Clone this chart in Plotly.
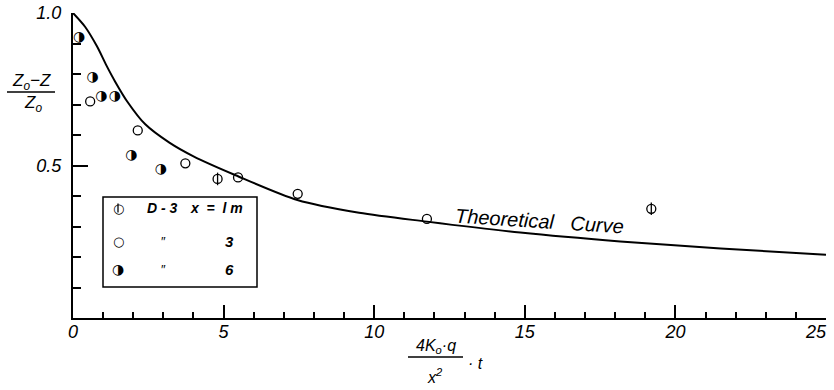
import plotly.graph_objects as go

# ---------------- data ----------------
curve_x = [0, 0.4, 0.8, 1.1, 1.4, 1.8, 2.4, 3.2, 4.0, 5.4, 7.45, 9.5, 11.75, 14.85, 18.17, 21.5, 25]
curve_y = [1.0, 0.955, 0.89, 0.83, 0.775, 0.71, 0.635, 0.575, 0.53, 0.468, 0.387, 0.345, 0.316, 0.280, 0.251, 0.228, 0.207]

d3_x = [4.80, 19.2]          # D-3, x = 1 m
d3_y = [0.456, 0.358]
open_x = [0.57, 2.15, 3.73, 5.48, 7.46, 11.75]   # x = 3 m
open_y = [0.71, 0.615, 0.507, 0.461, 0.407, 0.325]
half_x = [0.2, 0.65, 0.94, 1.39, 1.94, 2.92]     # x = 6 m
half_y = [0.92, 0.79, 0.725, 0.725, 0.533, 0.487]

x_tickvals = [0, 5, 10, 15, 20, 25]
x_ticktext = ["0", "5", "10", "15", "20", "25"]
y_tickvals = [0.5, 1.0]
y_ticktext = ["0.5", "1.0"]

FONT = "Liberation Sans"

# plot area in pixels (for decorations in paper coords)
L, R, T, B = 73, 8, 13, 72
W, H = 834, 390
PW, PH = W - L - R, H - T - B


def px(x):
    return (x - L) / PW


def py(y):
    return (H - B - y) / PH


fig = go.Figure()

fig.add_trace(go.Scatter(x=curve_x, y=curve_y, mode="lines",
                         line=dict(color="black", width=2, shape="spline", smoothing=0.8),
                         cliponaxis=False, showlegend=False, hoverinfo="skip"))

fig.add_trace(go.Scatter(x=open_x, y=open_y, mode="markers",
                         marker=dict(symbol="circle-open", size=9, color="black", line=dict(width=1.3)),
                         showlegend=False))
fig.add_trace(go.Scatter(x=d3_x, y=d3_y, mode="markers",
                         marker=dict(symbol="circle-open", size=9, color="black", line=dict(width=1.3)),
                         showlegend=False))
fig.add_trace(go.Scatter(x=d3_x, y=d3_y, mode="markers",
                         marker=dict(symbol="line-ns-open", size=9, color="black", line=dict(width=1.3)),
                         showlegend=False))
fig.add_trace(go.Scatter(x=half_x, y=half_y, mode="text", text=["◑"] * len(half_x),
                         textposition="middle center",
                         textfont=dict(family="DejaVu Sans", size=14, color="black"),
                         cliponaxis=False, showlegend=False))

ann = []
shapes = []


def note(x, y, text, font, xref="paper", yref="paper", **kw):
    d = dict(x=x, y=y, xref=xref, yref=yref, text=text, showarrow=False,
             xanchor="center", yanchor="middle", font=font)
    d.update(kw)
    ann.append(d)


ital = lambda s, w="normal": dict(family=FONT, size=s, style="italic", weight=w, color="black")

# Theoretical curve label
note(15.5, 0.318, "Theoretical   Curve", ital(20), xref="x", yref="y", textangle=3.7)

# y-axis title (fraction)
note(px(31), py(82), "Z<sub>o</sub>−Z", ital(17))
note(px(33), py(104), "Z<sub>o</sub>", ital(17))
shapes.append(dict(type="line", xref="paper", yref="paper", x0=px(7), x1=px(55), y0=py(92), y1=py(92),
                   line=dict(color="black", width=1.5)))

# x-axis title (fraction)
note(px(436), py(346), "4K<sub>o</sub>·q", ital(16))
note(px(435), py(376), "x<sup>2</sup>", ital(16))
note(px(475), py(364), "· t", ital(16))
shapes.append(dict(type="line", xref="paper", yref="paper", x0=px(408), x1=px(463), y0=py(357), y1=py(357),
                   line=dict(color="black", width=1.5)))

# custom legend box
shapes.append(dict(type="rect", xref="paper", yref="paper", x0=px(103), x1=px(257), y0=py(287), y1=py(197),
                   line=dict(color="black", width=1.5), fillcolor="white", layer="above"))
rows = [208, 241, 269]
glyph_font = dict(family="DejaVu Sans", size=13, color="black")
note(px(118), py(rows[0]), "○", glyph_font)
shapes.append(dict(type="line", xref="paper", yref="paper", x0=px(118), x1=px(118), y0=py(rows[0] - 4.5),
                   y1=py(rows[0] + 4.5), line=dict(color="black", width=1.3)))
note(px(118), py(rows[1]), "○", glyph_font)
note(px(118), py(rows[2]), "◑", dict(family="DejaVu Sans", size=14, color="black"))
note(px(162), py(rows[0]), "D - 3", ital(14, "bold"))
note(px(216), py(rows[0]), "x  =  l m", ital(14, "bold"))
for r, t in zip(rows[1:], ["3", "6"]):
    note(px(163), py(r), "″", dict(family=FONT, size=13, color="black"))
    note(px(229), py(r), t, ital(15, "bold"))

# last x label padded so it stays inside the page
x_labels = ["<i>%s</i>" % t for t in x_ticktext]
x_labels[-1] = "<i>%s</i>\u00a0\u00a0\u00a0\u00a0" % x_ticktext[-1]

fig.update_layout(
    width=W, height=H,
    margin=dict(l=L, r=R, t=T, b=B, autoexpand=False),
    paper_bgcolor="white", plot_bgcolor="white",
    showlegend=False,
    annotations=ann, shapes=shapes,
    xaxis=dict(range=[0, 25.0001], showgrid=False, zeroline=False, showline=True, linecolor="black", linewidth=2,
               automargin=False,
               ticks="inside", tickvals=x_tickvals, ticktext=x_labels,
               ticklen=13, tickwidth=1.5, tickcolor="black", ticklabeloverflow="allow",
               minor=dict(ticks="inside", dtick=1, ticklen=6, tickwidth=1.5, tickcolor="black", showgrid=False),
               tickfont=dict(family=FONT, size=18, style="italic", color="black"), ticklabelstandoff=-4),
    yaxis=dict(range=[0, 1.0], showgrid=False, zeroline=False, showline=True, linecolor="black", linewidth=2,
               automargin=False,
               ticks="inside", tickvals=y_tickvals, ticktext=["<i>%s</i>" % t for t in y_ticktext],
               ticklen=15, tickwidth=1.5, tickcolor="black", ticklabeloverflow="allow",
               minor=dict(ticks="inside", dtick=0.1, ticklen=8, tickwidth=1.5, tickcolor="black", showgrid=False),
               tickfont=dict(family=FONT, size=18, style="italic", color="black"), ticklabelstandoff=6),
)

fig.write_html("out.html")
